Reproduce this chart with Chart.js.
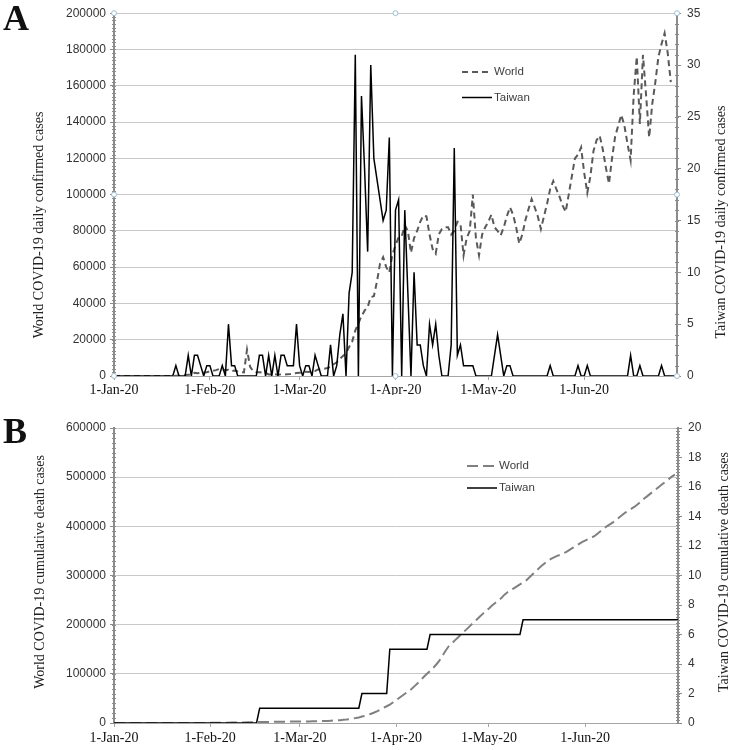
<!DOCTYPE html>
<html>
<head>
<meta charset="utf-8">
<title>COVID-19 World vs Taiwan</title>
<script src="https://cdn.jsdelivr.net/npm/chart.js@4.4.1/dist/chart.umd.min.js"></script>
<style>
    html, body { margin: 0; padding: 0; background: #fff; }
    #page { position: relative; width: 733px; height: 750px; overflow: hidden; }
    .box { position: absolute; left: 0; width: 733px; }
    #boxA { top: 0; height: 395px; }
    #boxB { top: 395px; height: 355px; }
    .letter { position: absolute; left: 3px; z-index: 2; color: #111;
              font: bold 36px/36px "Liberation Serif", "Times New Roman", serif; }
    .ytitle { position: absolute; z-index: 2; color: #222; white-space: nowrap;
              font: 14px "Liberation Serif", "Times New Roman", serif;
              transform: translate(-50%, -50%) rotate(-90deg); }
</style>
</head>
<body>
<div id="page">
    <div class="letter" style="top:0px">A</div>
    <div class="letter" style="top:413px">B</div>
    <div class="ytitle" style="left:39px;top:225px">World COVID-19 daily confirmed cases</div>
    <div class="ytitle" style="left:721px;top:222px">Taiwan COVID-19 daily confirmed cases</div>
    <div class="ytitle" style="left:40px;top:572px">World COVID-19 cumulative death cases</div>
    <div class="ytitle" style="left:724px;top:572px">Taiwan COVID-19 cumulative death cases</div>
    <div class="box" id="boxA"><canvas id="dailyChart"></canvas></div>
    <div class="box" id="boxB"><canvas id="deathChart"></canvas></div>
</div>
<script>
// x axis is a day number: 0 = 1-Jan-20 ... 182 = 1-Jul-20
const monthStarts = [0, 31, 60, 91, 121, 152];
const monthLabels = ["1-Jan-20", "1-Feb-20", "1-Mar-20", "1-Apr-20", "1-May-20", "1-Jun-20"];

// Panel A: daily confirmed cases, one value per day starting 1-Jan-20
const worldDaily = [
    // Jan
    0, 0, 0, 0, 0, 0, 0, 0, 0, 0, 0, 0, 0, 0, 0, 0, 0, 0, 0, 0,
    150, 130, 260, 450, 690, 770, 1770, 1460, 1740, 1980, 2100,
    // Feb
    2590, 2830, 3240, 3890, 3700, 3150, 3390, 2660, 2980, 2480,
    2030, 2000, 14500, 5100, 2650, 2020, 2060, 1900, 1760, 830,
    900, 1000, 700, 900, 850, 1000, 1100, 1400, 1700,
    // Mar
    1800, 1900, 2400, 2200, 2700, 2800, 3600, 3800, 4000, 4400,
    5000, 6500, 7500, 9500, 11000, 12500, 16000, 19000, 25000, 29000,
    33000, 36000, 38000, 43500, 44000, 52000, 62000, 65500, 60000, 57000,
    67000,
    // Apr
    72000, 76500, 77000, 83000, 80000, 68000, 76000, 80000, 85000, 88500,
    88000, 78000, 70000, 67500, 78000, 81000, 82000, 82000, 78000, 80000,
    85000, 84000, 66500, 76000, 80000, 100000, 76000, 66500, 78000, 82000,
    // May
    85000, 89000, 82000, 80000, 77500, 82000, 88000, 93000, 89000, 82000,
    73000, 78000, 86000, 92000, 97500, 93000, 88000, 81000, 88000, 95000,
    103000, 107500, 103000, 99000, 94000, 90500, 100000, 110000, 120000, 122000,
    126000,
    // Jun
    112000, 101000, 110000, 124000, 130000, 132500, 125000, 115000, 106000, 120000,
    132000, 138000, 144000, 138000, 128000, 119000, 155000, 176000, 139000, 177000,
    155000, 131500, 150000, 162000, 176000, 183000, 189000, 178000, 162000
];

const taiwanDaily = [
    // Jan
    0, 0, 0, 0, 0, 0, 0, 0, 0, 0, 0, 0, 0, 0, 0, 0, 0, 0, 0, 0,
    1, 0, 0, 0, 2, 0, 2, 2, 1, 0, 1,
    // Feb
    1, 0, 0, 0, 1, 0, 5, 1, 1, 0, 0, 0, 0, 0, 0, 0, 2, 2, 0, 2,
    0, 2, 0, 2, 2, 1, 1, 1, 5,
    // Mar
    1, 0, 1, 1, 0, 2, 1, 0, 0, 0, 3, 0, 1, 4, 6, 0, 8, 10, 31, 0,
    27, 20, 12, 30, 21, 19, 17, 15, 16, 23, 0,
    // Apr
    16, 17, 0, 16, 8, 0, 10, 3, 3, 1, 0, 5, 3, 5, 2, 0, 0, 0, 3, 22,
    2, 3, 1, 1, 1, 1, 0, 0, 0, 0,
    // May
    0, 0, 2, 4, 2, 0, 1, 1, 0, 0, 0, 0, 0, 0, 0, 0, 0, 0, 0, 0,
    1, 0, 0, 0, 0, 0, 0, 0, 0, 1, 0,
    // Jun
    0, 1, 0, 0, 0, 0, 0, 0, 0, 0, 0, 0, 0, 0, 0, 2, 0, 0, 1, 0,
    0, 0, 0, 0, 0, 1, 0, 0, 0, 0
];

// Panel B: cumulative deaths
const worldDeaths = [
    // Jan
    0, 0, 0, 0, 0, 0, 0, 0, 0, 0, 0, 0, 0, 0, 0, 0, 0, 0, 0,
    6, 9, 17, 25, 41, 56, 80, 106, 132, 170, 213, 259,
    // Feb
    304, 362, 426, 492, 565, 638, 724, 813, 910, 1018,
    1115, 1261, 1383, 1526, 1669, 1775, 1873, 2009, 2126, 2247,
    2360, 2460, 2618, 2699, 2763, 2800, 2858, 2923, 2977,
    // Mar
    3050, 3117, 3202, 3285, 3387, 3494, 3599, 3827, 4025, 4296,
    4628, 4981, 5428, 5833, 6520, 7162, 7987, 8951, 10030, 11385,
    13050, 14650, 16510, 18900, 21300, 24070, 27340, 30890, 34070, 37560,
    41760,
    // Apr
    46000, 51000, 55500, 60000, 64500, 69000, 75000, 81000, 87000, 94000,
    100000, 106000, 112000, 119000, 127000, 137000, 147000, 156000, 162000, 168000,
    174000, 180000, 186000, 192000, 198000, 204000, 210000, 216000, 222000, 228000,
    // May
    233000, 239000, 244000, 249000, 254000, 261000, 266000, 270000, 274000, 278000,
    282000, 286000, 290000, 296000, 302000, 308000, 314000, 320000, 325000, 330000,
    334000, 337000, 340000, 342000, 345000, 348000, 352000, 356000, 360000, 364000,
    368000,
    // Jun
    371000, 374000, 377000, 380000, 385000, 390000, 395000, 400000, 404000, 408000,
    413000, 418000, 423000, 428000, 432000, 436000, 440000, 445000, 450000, 456000,
    461000, 466000, 471000, 476000, 481000, 486000, 491000, 496000, 501000, 505000
];

// Taiwan's total only changes on a few days: day number and running total
const taiwanDeathDays = [0, 46, 47, 79, 80, 88, 89, 101, 102, 131, 132, 182];
const taiwanDeathTotals = [0, 0, 1, 1, 2, 2, 5, 5, 6, 6, 7, 7];

const sansFont = '"Liberation Sans", Arial, sans-serif';
const serifFont = '"Liberation Serif", "Times New Roman", serif';

function toPoints(values, days) {
    return values.map((v, i) => ({ x: days ? days[i] : i, y: v }));
}

// Legend inside the plot, minor ticks on the value axes, Excel-like handles
const panelDecor = {
    id: "panelDecor",
    afterDraw(chart, args, opts) {
        const ctx = chart.ctx;
        const area = chart.chartArea;
        ctx.save();

        ctx.strokeStyle = "#8c8c8c";
        ctx.lineWidth = 1;
        (opts.minor || []).forEach((m) => {
            const scale = chart.scales[m.axis];
            const x = scale.position === "left" ? scale.right : scale.left;
            const n = Math.round((scale.max - scale.min) / m.step);
            ctx.beginPath();
            for (let i = 0; i <= n; i++) {
                const y = Math.round(scale.getPixelForValue(scale.min + i * m.step)) + 0.5;
                ctx.moveTo(x - 2, y);
                ctx.lineTo(x + 2, y);
            }
            ctx.stroke();
        });

        if (opts.handles) {
            const xs = [area.left, (area.left + area.right) / 2, area.right];
            const ys = [area.top, (area.top + area.bottom) / 2, area.bottom];
            ctx.fillStyle = "#fff";
            ctx.strokeStyle = "#9dbfd1";
            xs.forEach((x, i) => ys.forEach((y, j) => {
                if (i === 1 && j === 1) return;
                ctx.beginPath();
                ctx.arc(x, y, 2.5, 0, Math.PI * 2);
                ctx.fill();
                ctx.stroke();
            }));
        }

        if (opts.legend) {
            const lg = opts.legend;
            ctx.font = "11.5px " + sansFont;
            ctx.fillStyle = "#404040";
            ctx.textBaseline = "middle";
            lg.order.forEach((dsIndex, row) => {
                const ds = chart.data.datasets[dsIndex];
                const y = lg.y + row * lg.rowGap;
                ctx.beginPath();
                ctx.setLineDash(ds.borderDash || []);
                ctx.strokeStyle = ds.borderColor;
                ctx.lineWidth = ds.borderWidth;
                ctx.moveTo(lg.x, y);
                ctx.lineTo(lg.x + 30, y);
                ctx.stroke();
                ctx.setLineDash([]);
                ctx.fillText(ds.label, lg.x + 32, y);
            });
        }
        ctx.restore();
    }
};

function dateAxis(height, padding) {
    return {
        type: "linear",
        min: 0,
        max: 182,
        afterBuildTicks: (scale) => { scale.ticks = monthStarts.map((v) => ({ value: v })); },
        afterFit: (scale) => { scale.height = height; },
        ticks: {
            autoSkip: false,
            maxRotation: 0,
            padding: padding,
            color: "#111",
            font: { family: serifFont, size: 14 },
            callback: (v) => monthLabels[monthStarts.indexOf(v)]
        },
        grid: { drawOnChartArea: false, tickLength: 4, tickColor: "#a6a6a6" },
        border: { color: "#a6a6a6", width: 1 }
    };
}

function valueAxis(position, max, step, width) {
    return {
        position: position,
        min: 0,
        max: max,
        afterFit: (scale) => { scale.width = width; },
        ticks: {
            stepSize: step,
            padding: position === "left" ? 4 : 6,
            color: "#333",
            font: { family: sansFont, size: 12 },
            callback: (v) => v
        },
        grid: {
            drawOnChartArea: position === "left",
            color: "#c8c8c8",
            tickLength: 4,
            tickColor: "#8c8c8c"
        },
        border: { color: "#8c8c8c", width: 2 }
    };
}

document.addEventListener("DOMContentLoaded", () => {
    // Panel A: daily confirmed cases
    new Chart(document.getElementById("dailyChart"), {
        type: "line",
        data: {
            datasets: [
                {
                    label: "World",
                    data: toPoints(worldDaily),
                    yAxisID: "y",
                    borderColor: "#595959",
                    borderWidth: 2,
                    borderDash: [6, 4],
                    pointRadius: 0,
                    order: 2
                },
                {
                    label: "Taiwan",
                    data: toPoints(taiwanDaily),
                    yAxisID: "y1",
                    borderColor: "#000",
                    borderWidth: 1.5,
                    pointRadius: 0,
                    order: 1
                }
            ]
        },
        options: {
            responsive: true,
            maintainAspectRatio: false,
            animation: false,
            layout: { padding: { top: 12, left: 0, right: 0, bottom: 0 } },
            plugins: {
                legend: { display: false },
                tooltip: { enabled: false },
                panelDecor: {
                    minor: [{ axis: "y", step: 2000 }, { axis: "y1", step: 1 }],
                    handles: true,
                    legend: { x: 462, y: 72, rowGap: 25.5, order: [0, 1] }
                }
            },
            scales: {
                x: dateAxis(19, 2),
                y: valueAxis("left", 200000, 20000, 114),
                y1: valueAxis("right", 35, 5, 56)
            }
        },
        plugins: [panelDecor]
    });

    // Panel B: cumulative deaths
    new Chart(document.getElementById("deathChart"), {
        type: "line",
        data: {
            datasets: [
                {
                    label: "World",
                    data: toPoints(worldDeaths),
                    yAxisID: "y",
                    borderColor: "#808080",
                    borderWidth: 2,
                    borderDash: [11, 5],
                    pointRadius: 0,
                    order: 2
                },
                {
                    label: "Taiwan",
                    data: toPoints(taiwanDeathTotals, taiwanDeathDays),
                    yAxisID: "y1",
                    borderColor: "#000",
                    borderWidth: 1.5,
                    pointRadius: 0,
                    order: 1
                }
            ]
        },
        options: {
            responsive: true,
            maintainAspectRatio: false,
            animation: false,
            layout: { padding: { top: 33, left: 0, right: 0, bottom: 0 } },
            plugins: {
                legend: { display: false },
                tooltip: { enabled: false },
                panelDecor: {
                    minor: [{ axis: "y", step: 10000 }, { axis: "y1", step: 0.2 }],
                    legend: { x: 467, y: 71, rowGap: 22, order: [0, 1] }
                }
            },
            scales: {
                x: dateAxis(27, 3),
                y: valueAxis("left", 600000, 100000, 114),
                y1: valueAxis("right", 20, 2, 55)
            }
        },
        plugins: [panelDecor]
    });
});
</script>
</body>
</html>
